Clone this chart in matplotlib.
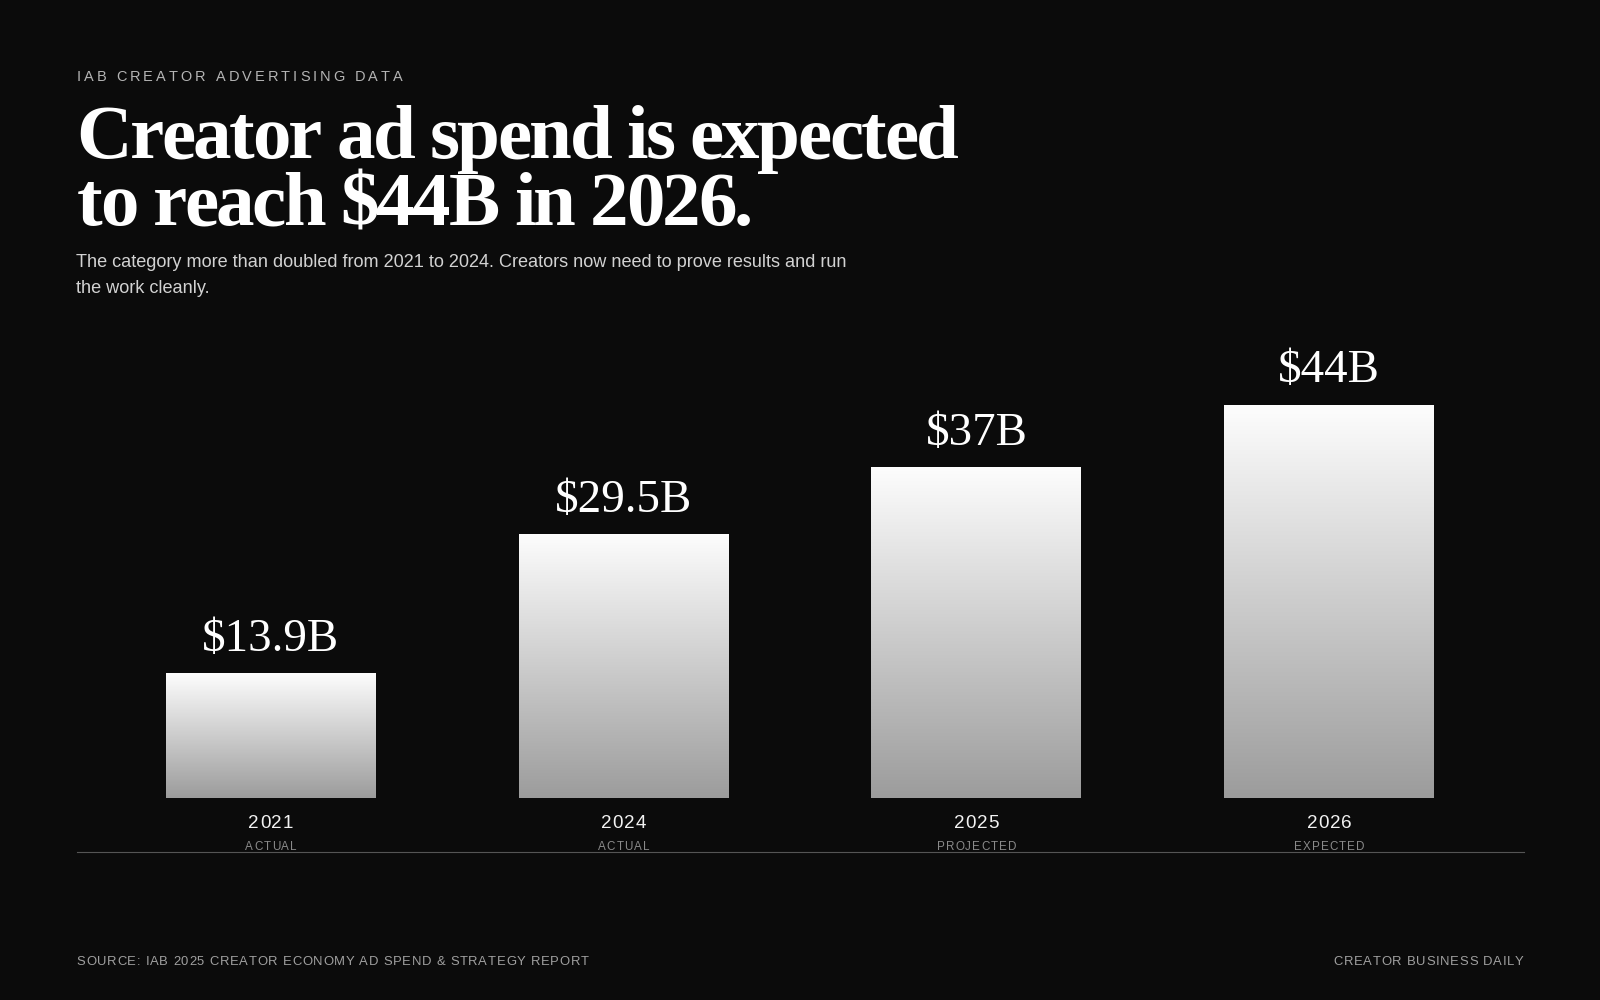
import numpy as np
import matplotlib
matplotlib.use("Agg")
import matplotlib.pyplot as plt
from matplotlib.lines import Line2D
from matplotlib.colors import LinearSegmentedColormap
from matplotlib.font_manager import FontProperties, findfont, get_font

# data
years = ["2021", "2024", "2025", "2026"]
status = ["ACTUAL", "ACTUAL", "PROJECTED", "EXPECTED"]
spend = [13.9, 29.5, 37.0, 44.0]
value_labels = ["$13.9B", "$29.5B", "$37B", "$44B"]

kicker = "IAB CREATOR ADVERTISING DATA"
title_lines = ["Creator ad spend is expected", "to reach $44B in 2026."]
subtitle_lines = ["The category more than doubled from 2021 to 2024. Creators now need to prove results and run",
                  "the work cleanly."]
source = "SOURCE: IAB 2025 CREATOR ECONOMY AD SPEND & STRATEGY REPORT"
brand = "CREATOR BUSINESS DAILY"

W, H, DPI = 1600, 1000, 100
BG = "#0b0b0b"
SANS = "Liberation Sans"
SERIF = "Liberation Serif"

fig = plt.figure(figsize=(W / DPI, H / DPI), dpi=DPI, facecolor=BG)


def advances(s, family, weight, px):
    font = get_font(findfont(FontProperties(family=family, weight=weight)))
    font.set_size(px, 72)  # units come out in pixels
    return [font.load_char(ord(c)).linearHoriAdvance / 65536 for c in s]


def put(s, x, y, px, color, family=SANS, weight="normal", track=0.0, width=None, ha="left"):
    # draw text char by char so letter spacing can be set (x, y in pixels from top-left)
    adv = advances(s, family, weight, px)
    if width is not None and len(s) > 1:
        track = (width - sum(adv)) / (len(s) - 1)
    total = sum(adv) + track * (len(s) - 1)
    if ha == "center":
        x -= total / 2
    elif ha == "right":
        x -= total
    for c, a in zip(s, adv):
        if c != " ":
            fig.text(x / W, 1 - y / H, c, fontsize=px * 72 / DPI, family=family,
                     weight=weight, color=color, ha="left", va="baseline")
        x += a + track


# header
put(kicker, 76.5, 81, 14.5, "#b4b4b4", width=326)
for ln, yb in zip(title_lines, [158.3, 225]):
    put(ln, 76.5, yb, 77, "white", family=SERIF, weight="bold", track=-2.5)
for ln, yb in zip(subtitle_lines, [266.7, 293.3]):
    fig.text(76.5 / W, 1 - yb / H, ln, fontsize=18.1 * 72 / DPI, family=SANS,
             color="#d2d2d2", ha="left", va="baseline")

# bars
ax = fig.add_axes([94.5 / W, 1 - 798 / H, 1411 / W, 50 * 8.93 / H])
ax.set_facecolor("none")
bw = 210 / 353
cmap = LinearSegmentedColormap.from_list("bar", ["#9c9c9c", "#fdfdfd"])
grad = np.linspace(0, 1, 256).reshape(-1, 1)
xs = np.arange(len(years))
for i, v in enumerate(spend):
    ax.imshow(grad, cmap=cmap, origin="lower", aspect="auto", interpolation="bilinear",
              extent=(i - bw / 2, i + bw / 2, 0, v))
    ax.annotate(value_labels[i], (i, v), xytext=(0, 23 * 72 / DPI), textcoords="offset points",
                ha="center", va="baseline", fontsize=47 * 72 / DPI, family=SERIF, color="white")
ax.set_xlim(-0.5, len(years) - 0.5)
ax.set_ylim(0, 50)
ax.axis("off")

for i in xs:
    cx = ax.transData.transform((i, 0))[0]
    put(years[i], cx, 828.3, 18.9, "#f2f2f2", track=1.0, ha="center")
    put(status[i], cx, 850, 11.6, "#8a8a8a", track=1.1, ha="center")

fig.add_artist(Line2D([76.5 / W, 1523.5 / W], [1 - 852 / H] * 2, color="#555555", lw=0.8))

# footer
put(source, 76.5, 965, 13, "#a0a0a0", width=512)
put(brand, 1523.5, 965, 13, "#a0a0a0", width=190, ha="right")

fig.savefig("out.png", dpi=DPI, facecolor=BG)
